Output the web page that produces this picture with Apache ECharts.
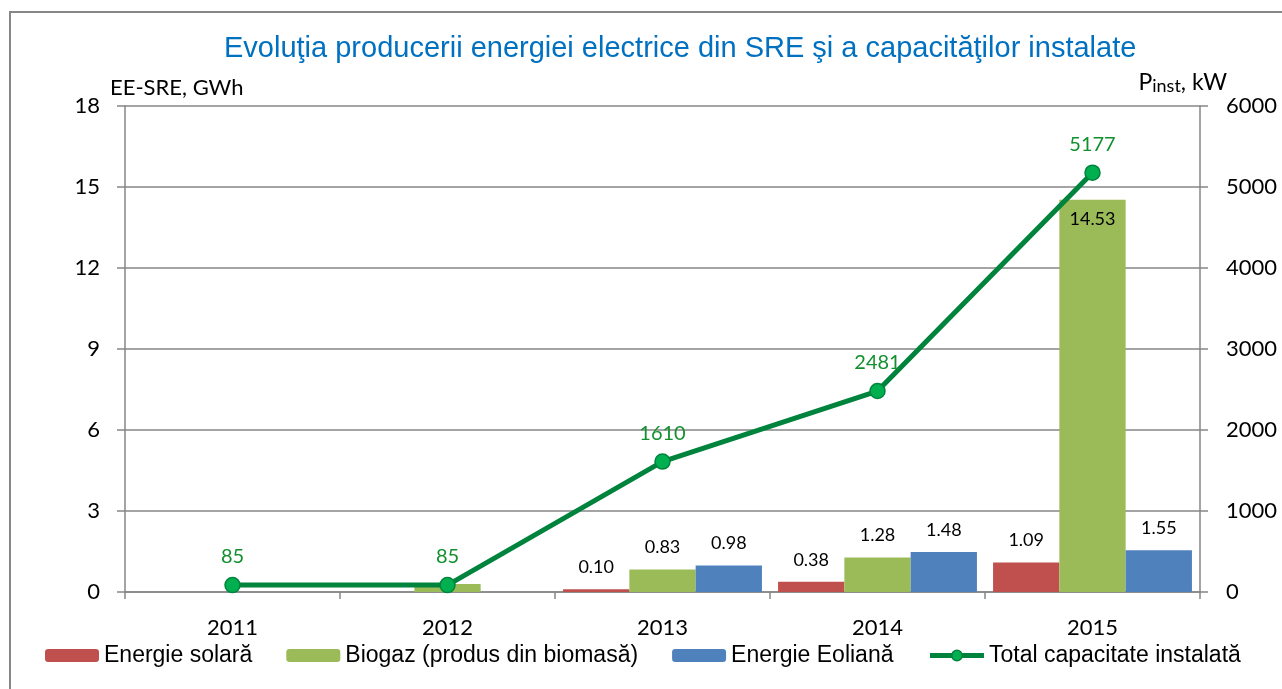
<!DOCTYPE html>
<html>
<head>
<meta charset="utf-8">
<script src="https://cdn.jsdelivr.net/npm/echarts@6/dist/echarts.min.js"></script>
<style>html,body{margin:0;padding:0;background:#fff}#c{width:1282px;height:689px}</style>
</head>
<body>
<div id="c"></div>
<script>
const years = ['2011', '2012', '2013', '2014', '2015'];
const solar = [null, null, 0.10, 0.38, 1.09];
const biogaz = [null, 0.3, 0.83, 1.28, 14.53];
const eolian = [null, null, 0.98, 1.48, 1.55];
const capacity = [85, 85, 1610, 2481, 5177];
const firstLabelledYear = '2013';

const numFont = 'Lato, "Open Sans", sans-serif';
const arial = '"Liberation Sans", Arial, sans-serif';

function barLabelFmt(p) {
  if (p.value == null || p.name < firstLabelledYear) return '';
  return Number(p.value).toFixed(2);
}

function barSeries(name, data, color) {
  return {
    name: name, type: 'bar', data: data, yAxisIndex: 0,
    barGap: '0%', barCategoryGap: '7.5%',
    itemStyle: { color: color },
    label: {
      show: true, position: 'top', distance: 13,
      color: '#000', fontFamily: numFont, fontSize: 18,
      formatter: barLabelFmt
    }
  };
}

const chart = echarts.init(document.getElementById('c'), null, { renderer: 'canvas' });

const biogazSeries = barSeries('Biogaz (produs din biomasă)', biogaz.map(function (v) {
  if (v != null && v > 10) {
    return { value: v, label: { position: 'insideTop', distance: 10 } };
  }
  return v;
}), '#9BBB59');

chart.setOption({
  animation: false,
  backgroundColor: '#fff',
  title: {
    text: 'Evoluţia producerii energiei electrice din SRE şi a capacităţilor instalate',
    left: 219, top: 29,
    textStyle: { color: '#0070C0', fontFamily: arial, fontSize: 29, fontWeight: 'normal' }
  },
  graphic: [{
    type: 'rect', silent: true, z: -1,
    shape: { x: 10, y: 12, width: 1320, height: 720 },
    style: { fill: 'none', stroke: '#868686', lineWidth: 2 }
  }],
  legend: {
    bottom: 17, left: 40,
    itemWidth: 54, itemHeight: 13, itemGap: 34,
    textStyle: { fontFamily: arial, fontSize: 23, color: '#000' },
    data: [
      'Energie solară', 'Biogaz (produs din biomasă)', 'Energie Eoliană',
      { name: 'Total capacitate instalată', lineStyle: { width: 5, color: '#00843D' },
        itemStyle: { color: '#00B050', borderColor: '#00843D', borderWidth: 1.5 } }
    ]
  },
  grid: { left: 125, right: 82, top: 106, bottom: 97, containLabel: false },
  xAxis: {
    type: 'category', data: years, boundaryGap: true,
    axisLine: { lineStyle: { color: '#868686', width: 1.5 } },
    axisTick: { show: true, alignWithLabel: false, length: 7, lineStyle: { color: '#868686', width: 1.5 } },
    axisLabel: { color: '#000', fontFamily: numFont, fontSize: 22, margin: 25 }
  },
  yAxis: [{
    type: 'value', min: 0, max: 18, interval: 3, position: 'left',
    name: 'EE-SRE, GWh', nameLocation: 'end', nameGap: 7,
    nameTextStyle: { color: '#000', fontFamily: numFont, fontSize: 22, align: 'left', padding: [0, 0, 0, -15] },
    axisLine: { show: true, lineStyle: { color: '#868686', width: 1.5 } },
    axisTick: { show: true, length: 8, lineStyle: { color: '#868686', width: 1.5 } },
    axisLabel: { color: '#000', fontFamily: numFont, fontSize: 22, margin: 25 },
    splitLine: { show: true, lineStyle: { color: '#868686', width: 1.5 } }
  }, {
    type: 'value', min: 0, max: 6000, interval: 1000, position: 'right',
    name: '{p|P}{s|inst}{p|, kW}', nameLocation: 'end', nameGap: 9,
    nameTextStyle: {
      align: 'right', padding: [0, -27, 0, 0],
      rich: {
        p: { color: '#000', fontFamily: numFont, fontSize: 23 },
        s: { color: '#000', fontFamily: numFont, fontSize: 18, verticalAlign: 'bottom', padding: [0, 0, -1, 0] }
      }
    },
    axisLine: { show: true, lineStyle: { color: '#868686', width: 1.5 } },
    axisTick: { show: true, length: 8, lineStyle: { color: '#868686', width: 1.5 } },
    axisLabel: { color: '#000', fontFamily: numFont, fontSize: 22, margin: 26, formatter: function (v) { return String(v); } },
    splitLine: { show: false }
  }],
  series: [
    barSeries('Energie solară', solar, '#C0504D'),
    biogazSeries,
    barSeries('Energie Eoliană', eolian, '#4F81BD'),
    {
      name: 'Total capacitate instalată', type: 'line', yAxisIndex: 1, data: capacity,
      symbol: 'circle', symbolSize: 15, z: 5,
      lineStyle: { color: '#00843D', width: 5 },
      itemStyle: { color: '#00B050', borderColor: '#00843D', borderWidth: 1.5 },
      label: {
        show: true, position: 'top', distance: 10,
        color: '#12902E', fontFamily: numFont, fontSize: 20
      }
    }
  ]
});
</script>
</body>
</html>
